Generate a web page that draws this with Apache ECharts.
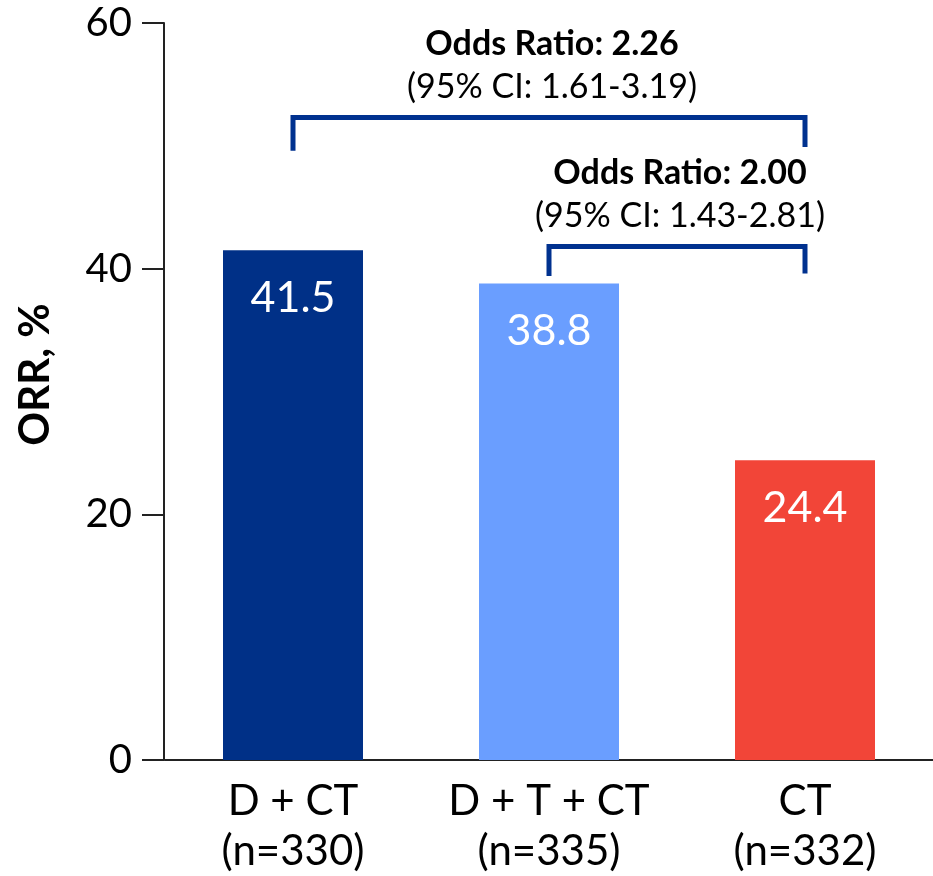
<!DOCTYPE html>
<html>
<head>
<meta charset="utf-8">
<script src="https://cdn.jsdelivr.net/npm/echarts@6/dist/echarts.min.js"></script>
<style>
  html, body { margin: 0; padding: 0; background: #fff; }
  #chart { width: 933px; height: 876px; }
</style>
</head>
<body>
<div id="chart"></div>
<script>
// ---- data ----
const categories = ['D + CT\n(n=330)', 'D + T + CT\n(n=335)', 'CT\n(n=332)'];
const orrValues = [41.5, 38.8, 24.4];
const barColors = ['#003087', '#6a9eff', '#f24538'];
const yMin = 0, yMax = 60, yInterval = 20;
const yAxisName = 'ORR, %';
// bracket paths: [categoryIndex, value]
const bracket1 = [[0, 49.6], [0, 52.3], [2, 52.3], [2, 49.9]];
const bracket2 = [[1, 39.4], [1, 41.8], [2, 41.8], [2, 39.6]];
const bracket1Text = ['Odds Ratio: 2.26', '(95% CI: 1.61-3.19)'];
const bracket2Text = ['Odds Ratio: 2.00', '(95% CI: 1.43-2.81)'];

const FONT = 'Lato';
const chart = echarts.init(document.getElementById('chart'), null, { renderer: 'canvas' });

const bracketStyle = { color: '#00318f', width: 5, join: 'miter', cap: 'butt' };

chart.setOption({
  animation: false,
  backgroundColor: '#ffffff',
  grid: { left: 165, top: 23, width: 774, height: 737 },
  xAxis: {
    type: 'category',
    data: categories,
    axisLine: { show: true, lineStyle: { color: '#222', width: 2 } },
    axisTick: { show: false },
    axisLabel: { color: '#000', fontFamily: FONT, fontSize: 42, lineHeight: 50, margin: 16, interval: 0 },
    splitLine: { show: false }
  },
  yAxis: {
    type: 'value',
    min: yMin, max: yMax, interval: yInterval,
    offset: 1,
    name: yAxisName,
    nameLocation: 'middle',
    nameGap: 108,
    nameRotate: 90,
    nameTextStyle: { color: '#000', fontFamily: FONT, fontWeight: 'bold', fontSize: 42, padding: [0, 0, 0, 34] },
    axisLine: { show: true, lineStyle: { color: '#222', width: 2 } },
    axisTick: { show: true, inside: false, length: 22, lineStyle: { color: '#222', width: 2 } },
    axisLabel: { color: '#000', fontFamily: FONT, fontSize: 40, margin: 32 },
    splitLine: { show: false }
  },
  series: [
    {
      type: 'bar',
      barWidth: 140,
      data: orrValues.map((v, i) => ({ value: v, itemStyle: { color: barColors[i] } })),
      label: {
        show: true, position: 'insideTop', distance: 26,
        color: '#fff', fontFamily: FONT, fontSize: 43
      },
      z: 2
    },
    {
      type: 'line', data: bracket1, symbol: 'none', silent: true,
      lineStyle: bracketStyle, z: 5
    },
    {
      type: 'line', data: bracket2, symbol: 'none', silent: true,
      lineStyle: bracketStyle, z: 5
    }
  ]
});

function annot(bracket, texts) {
  const pL = chart.convertToPixel({ seriesIndex: 1 }, bracket[1]);
  const pR = chart.convertToPixel({ seriesIndex: 1 }, bracket[2]);
  const cx = (pL[0] + pR[0]) / 2 + 3;
  const top = pL[1];
  return [
    { type: 'text', x: cx, y: top - 74, style: { text: texts[0], fill: '#000', font: 'bold 34px ' + FONT, align: 'center', verticalAlign: 'middle' } },
    { type: 'text', x: cx, y: top - 31, style: { text: texts[1], fill: '#000', font: '34px ' + FONT, align: 'center', verticalAlign: 'middle' } }
  ];
}
chart.setOption({ graphic: annot(bracket1, bracket1Text).concat(annot(bracket2, bracket2Text)) });
</script>
</body>
</html>
